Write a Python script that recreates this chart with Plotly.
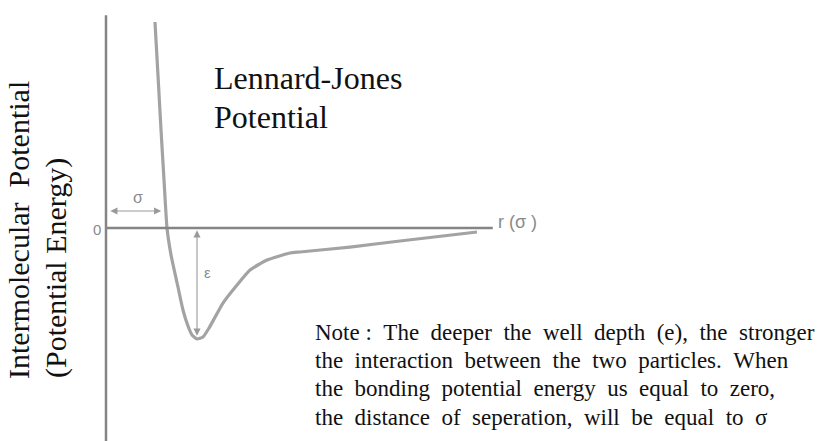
import plotly.graph_objects as go

# Separation r (in units of sigma) and potential U (in units of epsilon)
r_vals = [0.803, 0.852, 0.902, 0.951, 1.0, 1.066, 1.180, 1.262, 1.344, 1.410, 1.492,
          1.590, 1.689, 1.918, 2.148, 2.361, 2.639, 3.016, 3.18, 4.0, 4.82, 6.082]
u_vals = [1.839, 1.366, 0.875, 0.429, 0.0, -0.241, -0.527, -0.732, -0.875, -0.955, -0.991,
          -0.973, -0.893, -0.670, -0.509, -0.375, -0.286, -0.223, -0.214, -0.170, -0.116, -0.036]

axis_color = "#858585"
curve_color = "#a3a3a3"
serif = "Liberation Serif"
sans = "Liberation Sans"


def px_y(py):
    return 1 - py / 441


def px_x(px):
    return px / 819


fig = go.Figure()
fig.add_trace(go.Scatter(x=r_vals, y=u_vals, mode="lines",
                         line=dict(color=curve_color, width=3.2, shape="spline", smoothing=0.5),
                         hoverinfo="skip", showlegend=False))

shapes = [
    # vertical (energy) axis
    dict(type="line", xref="x", yref="y", x0=0, x1=0, y0=1.9, y1=-2.0,
         line=dict(color=axis_color, width=2.5)),
    # horizontal (distance) axis
    dict(type="line", xref="x", yref="y", x0=0, x1=6.34, y0=0, y1=0,
         line=dict(color=axis_color, width=2.5)),
]

annotations = [
    # sigma double arrow
    dict(x=0.07, y=0.152, ax=0.93, ay=0.152, xref="x", yref="y", axref="x", ayref="y",
         text="", showarrow=True, arrowside="end+start", arrowhead=2, arrowsize=1.3,
         arrowwidth=1.1, arrowcolor="#9a9a9a"),
    dict(x=0.52, y=0.27, xref="x", yref="y", text="σ", showarrow=False,
         xanchor="center", yanchor="middle",
         font=dict(family=sans, size=16, color="#8a8a8a")),
    # epsilon double arrow
    dict(x=1.492, y=-0.02, ax=1.492, ay=-0.975, xref="x", yref="y", axref="x", ayref="y",
         text="", showarrow=True, arrowside="end+start", arrowhead=2, arrowsize=1.3,
         arrowwidth=1.1, arrowcolor="#9a9a9a"),
    dict(x=1.66, y=-0.40, xref="x", yref="y", text="ε", showarrow=False,
         xanchor="center", yanchor="middle",
         font=dict(family=sans, size=15, color="#8a8a8a")),
    # axis labels
    dict(x=-0.15, y=-0.01, xref="x", yref="y", text="0", showarrow=False,
         xanchor="center", yanchor="middle",
         font=dict(family=sans, size=15, color="#8a8a8a")),
    dict(x=6.40, y=0.05, xref="x", yref="y", text="r (σ )", showarrow=False,
         xanchor="left", yanchor="middle",
         font=dict(family=sans, size=18, color="#8a8a8a")),
    # titles
    dict(x=px_x(18), y=px_y(230), xref="paper", yref="paper", text="Intermolecular  Potential",
         textangle=-90, showarrow=False, xanchor="center", yanchor="middle",
         font=dict(family=serif, size=30, color="#111")),
    dict(x=px_x(56), y=px_y(268), xref="paper", yref="paper", text="(Potential Energy)",
         textangle=-90, showarrow=False, xanchor="center", yanchor="middle",
         font=dict(family=serif, size=30, color="#111")),
    dict(x=px_x(212), y=px_y(78), xref="paper", yref="paper", text="Lennard-Jones",
         xanchor="left", yanchor="middle", showarrow=False,
         font=dict(family=serif, size=32, color="#111")),
    dict(x=px_x(212), y=px_y(117), xref="paper", yref="paper", text="Potential",
         xanchor="left", yanchor="middle", showarrow=False,
         font=dict(family=serif, size=32, color="#111")),
]

note_lines = [
    "Note : The deeper the well depth (e), the stronger",
    "the interaction between the two particles. When",
    "the bonding potential energy us equal to zero,",
    "the distance of seperation, will be equal to σ",
]
note_y = [332, 360, 388, 417]
for line, yy in zip(note_lines, note_y):
    spaced = line.replace(" ", " \u00a0").replace("Note \u00a0:", "Note :")
    annotations.append(dict(x=px_x(313), y=px_y(yy), xref="paper", yref="paper",
                            text=spaced, xanchor="left", yanchor="middle",
                            showarrow=False, font=dict(family=serif, size=23, color="#111")))

fig.update_layout(
    width=819, height=441,
    margin=dict(l=0, r=0, t=0, b=0),
    paper_bgcolor="white", plot_bgcolor="white",
    xaxis=dict(range=[-106 / 61, 713 / 61], visible=False, fixedrange=True),
    yaxis=dict(range=[-213 / 112, 228 / 112], visible=False, fixedrange=True),
    shapes=shapes, annotations=annotations, showlegend=False,
)

fig.write_html("out.html")
